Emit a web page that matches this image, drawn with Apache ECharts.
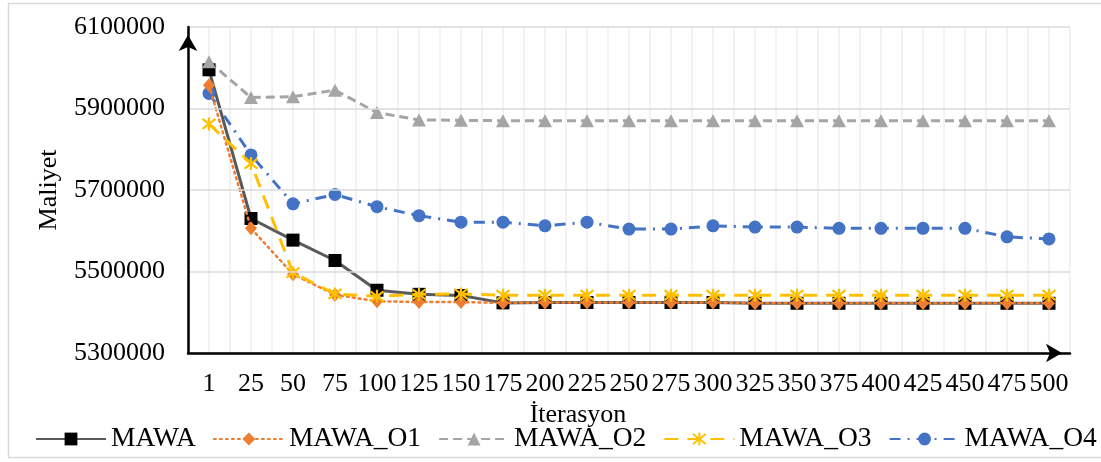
<!DOCTYPE html>
<html>
<head>
<meta charset="utf-8">
<script src="https://cdn.jsdelivr.net/npm/echarts@6/dist/echarts.min.js"></script>
<style>
  html, body { margin: 0; padding: 0; background: #fff; }
  #chart { width: 1101px; height: 462px; }
</style>
</head>
<body>
<div id="chart"></div>
<script>
// Iteration checkpoints on the x axis
const iterations = ['1', '25', '50', '75', '100', '125', '150', '175', '200', '225', '250',
  '275', '300', '325', '350', '375', '400', '425', '450', '475', '500'];

// Cost (Maliyet) per algorithm variant
const mawa   = [5995000, 5630000, 5577000, 5527000, 5454000, 5444000, 5441000, 5423000, 5424000, 5424000, 5424000,
  5424000, 5424000, 5422000, 5422000, 5422000, 5422000, 5422000, 5422000, 5422000, 5422000];
const mawaO1 = [5957000, 5606000, 5493000, 5443000, 5427000, 5425000, 5425000, 5423000, 5424000, 5424000, 5424000,
  5424000, 5424000, 5422000, 5422000, 5422000, 5422000, 5422000, 5422000, 5422000, 5422000];
const mawaO2 = [6015000, 5927000, 5929000, 5945000, 5890000, 5872000, 5871000, 5870000, 5870000, 5870000, 5870000,
  5870000, 5870000, 5870000, 5870000, 5870000, 5870000, 5870000, 5870000, 5870000, 5870000];
const mawaO3 = [5862000, 5765000, 5497000, 5445000, 5439000, 5444000, 5445000, 5442000, 5442000, 5442000, 5442000,
  5442000, 5442000, 5442000, 5442000, 5442000, 5442000, 5442000, 5442000, 5442000, 5442000];
const mawaO4 = [5937000, 5786000, 5666000, 5689000, 5659000, 5637000, 5621000, 5621000, 5612000, 5621000, 5604000,
  5604000, 5612000, 5609000, 5609000, 5606000, 5606000, 5606000, 5606000, 5585000, 5580000];

// Y axis range
const yMin = 5300000;
const yMax = 6100000;
const yStep = 200000;

const FONT = "'Liberation Serif', 'Times New Roman', serif";
const starPath = 'path://M0,0L10,10M10,0L0,10M5,-1.5L5,11.5';

const chart = echarts.init(document.getElementById('chart'), null, { renderer: 'canvas' });

chart.setOption({
  animation: false,
  backgroundColor: '#ffffff',
  textStyle: { fontFamily: FONT },
  grid: { left: 188, right: 31, top: 27, bottom: 109, containLabel: false },
  graphic: [
    {
      type: 'rect',
      shape: { x: 8.5, y: 3.5, width: 1100, height: 454 },
      style: { fill: 'none', stroke: '#d9d9d9', lineWidth: 1.5 },
      silent: true, z: -10
    },
    {
      type: 'text',
      x: 578, y: 415,
      style: {
        text: 'İterasyon', fontFamily: FONT, fontSize: 26, fill: '#000',
        textAlign: 'center', textVerticalAlign: 'middle'
      }
    }
  ],
  legend: {
    left: 35, top: 425, width: 1090, padding: 0,
    itemWidth: 70, itemHeight: 16, itemGap: 17,
    textStyle: { fontFamily: FONT, fontSize: 27.5, color: '#000' },
    data: ['MAWA', 'MAWA_O1', 'MAWA_O2', 'MAWA_O3', 'MAWA_O4']
  },
  xAxis: [
    {
      type: 'category',
      data: iterations,
      boundaryGap: true,
      axisLine: {
        show: true, symbol: ['none', 'arrow'], symbolSize: [14, 16], symbolOffset: [0, -8],
        lineStyle: { color: '#000', width: 2.5 }
      },
      axisTick: { show: false },
      axisLabel: { interval: 0, margin: 18, fontFamily: FONT, fontSize: 26, color: '#000', hideOverlap: false },
      splitLine: { show: false },
      z: 5
    },
    {
      // half-band vertical grid lines
      type: 'value', min: 0, max: 42, interval: 1,
      position: 'bottom',
      axisLine: { show: false }, axisTick: { show: false }, axisLabel: { show: false },
      splitLine: { show: true, lineStyle: { color: '#eeeeee', width: 1.5 } }
    }
  ],
  yAxis: {
    type: 'value',
    min: yMin, max: yMax, interval: yStep,
    name: 'Maliyet', nameLocation: 'middle', nameGap: 126, nameRotate: 90,
    nameTextStyle: { fontFamily: FONT, fontSize: 26, color: '#000' },
    axisLine: {
      show: true, symbol: ['none', 'arrow'], symbolSize: [14, 16], symbolOffset: [0, -8],
      lineStyle: { color: '#000', width: 2.5 }
    },
    axisTick: { show: false },
    axisLabel: {
      margin: 23, fontFamily: FONT, fontSize: 26, color: '#000',
      formatter: (v) => String(v)
    },
    splitLine: { show: true, lineStyle: { color: '#d9d9d9', width: 1.5 } },
    z: 5
  },
  series: [
    {
      name: 'MAWA', type: 'line', data: mawa,
      symbol: 'rect', symbolSize: 13,
      lineStyle: { color: '#595959', width: 3 },
      itemStyle: { color: '#000000', borderWidth: 0 },
      z: 2
    },
    {
      name: 'MAWA_O1', type: 'line', data: mawaO1,
      symbol: 'diamond', symbolSize: [12, 14],
      lineStyle: { color: '#ED7D31', width: 2.5, type: [2, 4], cap: 'round' },
      itemStyle: { color: '#ED7D31', borderWidth: 0 },
      z: 3
    },
    {
      name: 'MAWA_O2', type: 'line', data: mawaO2,
      symbol: 'triangle', symbolSize: [14, 13],
      lineStyle: { color: '#A5A5A5', width: 3, type: [9, 5] },
      itemStyle: { color: '#A5A5A5', borderWidth: 0 },
      z: 2
    },
    {
      name: 'MAWA_O3', type: 'line', data: mawaO3,
      symbol: starPath, symbolSize: 13,
      lineStyle: { color: '#FFC000', width: 3, type: [14, 9] },
      itemStyle: { color: '#FFC000', borderColor: '#FFC000', borderWidth: 2.2 },
      z: 4
    },
    {
      name: 'MAWA_O4', type: 'line', data: mawaO4,
      symbol: 'circle', symbolSize: 13,
      lineStyle: { color: '#4472C4', width: 3, type: [11, 7, 2, 7] },
      itemStyle: { color: '#4472C4', borderWidth: 0 },
      z: 2
    }
  ]
});
</script>
</body>
</html>
